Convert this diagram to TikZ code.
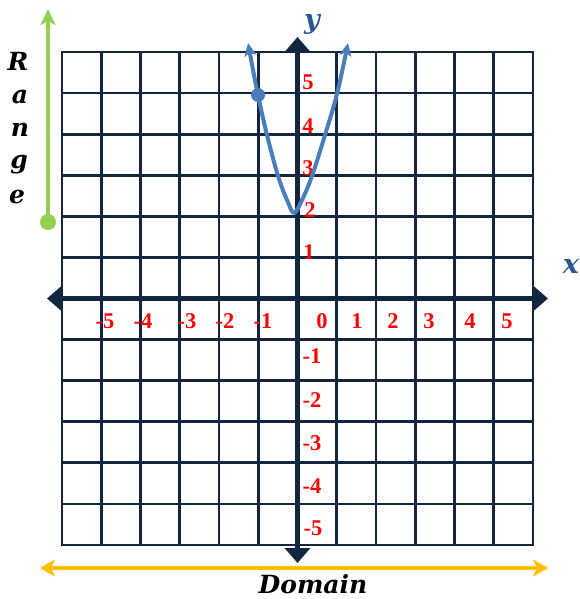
\documentclass[tikz,border=0pt]{standalone}
\usepackage{fontspec}
\newfontfamily\labfont{DejaVu Serif}
\newfontfamily\numfont{Liberation Serif}
\usetikzlibrary{arrows.meta}
\definecolor{navy}{HTML}{14263F}
\definecolor{curveblue}{HTML}{4A7EBB}
\definecolor{rangegreen}{HTML}{92D050}
\definecolor{domaingold}{HTML}{FFC000}
\definecolor{labblue}{HTML}{2F5496}
\definecolor{numred}{HTML}{FF0000}
\begin{document}
\begin{tikzpicture}[x=1pt,y=-1pt,
  gridline/.style={navy, line width=2.8pt, line cap=rect},
  axisline/.style={navy, line width=5pt, {Triangle[length=15pt,width=25pt]}-{Triangle[length=15pt,width=25pt]}},
  num/.style={text=numred, font=\numfont\fontsize{22.5}{22.5}\selectfont\bfseries, inner sep=0pt},
  word/.style={font=\labfont\fontsize{25}{25}\selectfont\bfseries\itshape, inner sep=0pt},
  axlab/.style={text=labblue, font=\labfont\fontsize{27}{27}\selectfont\bfseries\itshape, inner sep=0pt},
  dotnode/.style={circle, inner sep=0pt, draw=none}]
\useasboundingbox (0,0) rectangle (580,599);
\fill[white] (0,0) rectangle (580,599);
% grid
\foreach \i in {0,...,12} {
  \draw[gridline] (62+\i*39.25,52) -- (62+\i*39.25,545);
  \draw[gridline] (62,52+\i*41.0833) -- (533,52+\i*41.0833);
}
% axes
\coordinate (xL) at (47,298.5);
\coordinate (xR) at (548,298.5);
\coordinate (yT) at (297.5,37);
\coordinate (yB) at (297.5,563);
\draw[axisline] (xL) -- (xR);
\draw[axisline] (yT) -- (yB);
% x labels
\foreach \t/\x in {-5/105,-4/143,-3/187,-2/225,-1/263,0/322,1/357,2/393,3/429,4/470,5/507}
  \node[num] (xlab\t) at (\x,321) {\t};
% y labels
\foreach \t/\x/\y in {5/308/82,4/308/126,3/308/168,2/310/210,1/309/252,-1/312/356,-2/312/400,-3/312/443,-4/312/486,-5/313/528}
  \node[num] (ylab\t) at (\x,\y) {\t};
% axis names
\node[axlab] (ylabel) at (312,24) {y};
\node[axlab] (xlabel) at (571,266) {x};
% parabola
\draw[curveblue, line width=4pt, line join=round,
  {Stealth[length=13pt,width=12pt,inset=3pt]}-{Stealth[length=13pt,width=12pt,inset=3pt]}]
  plot[smooth, tension=0.55] coordinates {(248,43) (258,95) (267,135) (278,176) (287,200) (294,213) (302,200) (312,176) (325,135) (337,94) (348,43)};
\node[dotnode, fill=curveblue, minimum size=14pt] (pt) at (258,95) {};
% range
\node[dotnode, fill=rangegreen, minimum size=16pt] (rdot) at (48,222) {};
\coordinate (rtop) at (48,9);
\draw[rangegreen, line width=4.5pt, -{Stealth[length=16pt,width=15pt,inset=4pt]}] (rdot.center) -- (rtop);
\node[word] (R) at (18,61) {R};
\node[word] (a) at (20,97) {a};
\node[word] (n) at (20,130) {n};
\node[word] (g) at (19,165) {g};
\node[word] (e) at (17,197) {e};
% domain
\coordinate (dL) at (40,568);
\coordinate (dR) at (548,568);
\draw[domaingold, line width=4.5pt,
  {Stealth[length=15pt,width=17pt,inset=4pt]}-{Stealth[length=15pt,width=17pt,inset=4pt]}] (dL) -- (dR);
\node[word] (domain) at (313,584) {Domain};
\end{tikzpicture}
\end{document}
